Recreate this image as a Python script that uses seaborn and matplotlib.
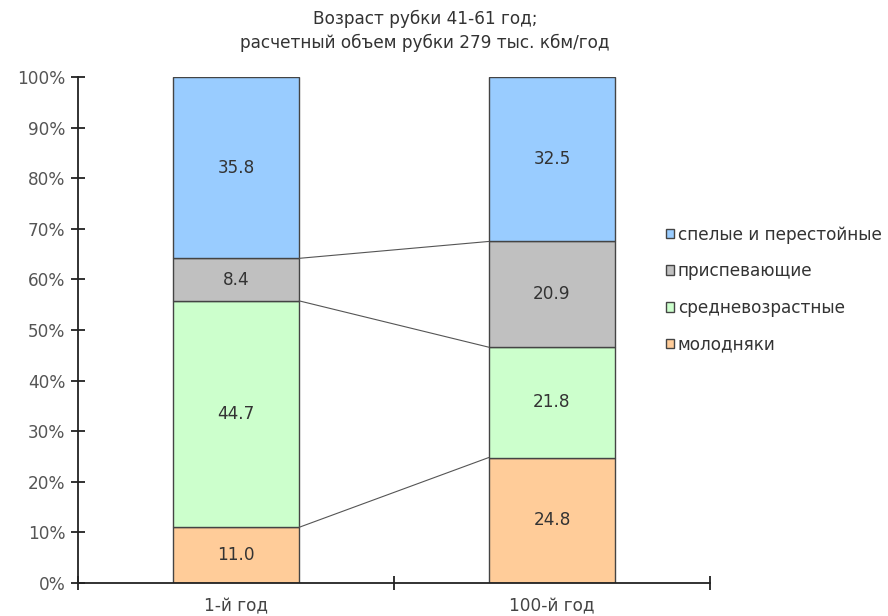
import numpy as np
import pandas as pd
import matplotlib
matplotlib.use("Agg")
import matplotlib.pyplot as plt
import seaborn as sns

# data
years = ['1-й год', '100-й год']
series = ['молодняки', 'средневозрастные', 'приспевающие', 'спелые и перестойные']
young = [11.0, 24.8]
middle = [44.7, 21.8]
ripening = [8.4, 20.9]
mature = [35.8, 32.5]
colors = ['#FFCC99', '#CCFFCC', '#C0C0C0', '#99CCFF']

sns.set_style("white")
plt.rcParams['font.family'] = 'DejaVu Sans'
plt.rcParams['font.sans-serif'] = ['DejaVu Sans']
fs = 12.2

df = pd.DataFrame({'year': years, series[0]: young, series[1]: middle,
                   series[2]: ripening, series[3]: mature})
totals = df[series].sum(axis=1).values

fig = plt.figure(figsize=(8.88, 6.16), dpi=100)
ax = fig.add_axes([78 / 888, 33 / 616, 632 / 888, 506 / 616])

bottoms = np.zeros(len(years))
for name, col in zip(series, colors):
    vals = df[name].values / totals * 100
    sns.barplot(x=df['year'], y=vals, bottom=bottoms, width=0.4, color=col,
                edgecolor='#444444', linewidth=1.0, saturation=1, ax=ax, label=name)
    for i, (b, v, raw) in enumerate(zip(bottoms, vals, df[name].values)):
        ax.text(i, b + v / 2, '%.1f' % raw, ha='center', va='center', fontsize=fs, color='#333333')
    bottoms = bottoms + vals
    # series lines between bars
    if name != series[-1]:
        ax.plot([0.2, 0.8], [bottoms[0], bottoms[1]], color='#555555', lw=0.8)

ax.set_xlim(-0.5, 1.5)
ax.set_ylim(0, 100)
ax.set_yticks(np.arange(0, 101, 10))
ax.set_yticklabels(['%d%%' % v for v in range(0, 101, 10)])
ax.set_xlabel('')
ax.set_ylabel('')
ax.set_xticks([0, 1])
ax.set_xticks([-0.5, 0.5, 1.5], minor=True)
ax.tick_params(axis='x', which='major', bottom=True, length=0, pad=10, labelsize=fs, colors='#444444')
ax.tick_params(axis='x', which='minor', bottom=True, direction='inout', length=10, width=1.3, color='#222222')
ax.tick_params(axis='y', left=True, direction='inout', length=10, width=1.3, color='#222222',
               labelsize=fs, labelcolor='#555555', pad=4)
for sp in ['top', 'right']:
    ax.spines[sp].set_visible(False)
for sp in ['left', 'bottom']:
    ax.spines[sp].set_color('#222222')
    ax.spines[sp].set_linewidth(1.3)

handles, labels = ax.get_legend_handles_labels()
leg = ax.legend(handles[::-1], labels[::-1], loc='center left', bbox_to_anchor=(0.906, 0.58),
                frameon=False, fontsize=fs, handlelength=0.5, handleheight=0.5,
                handletextpad=0.2, labelspacing=1.1)
for t in leg.get_texts():
    t.set_color('#333333')

fig.text(425 / 888, 585 / 616, 'Возраст рубки 41-61 год;\nрасчетный объем рубки 279 тыс. кбм/год',
         ha='center', va='center', fontsize=fs, color='#333333', linespacing=1.45)

fig.savefig('out.png', dpi=100)
